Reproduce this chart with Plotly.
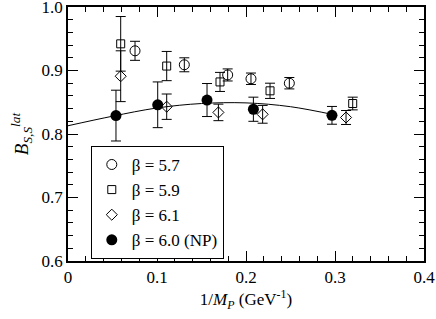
import plotly.graph_objects as go

# beta = 5.7 (open circles)
x57 = [0.0753, 0.1307, 0.1794, 0.2056, 0.2487]
y57 = [0.931, 0.909, 0.893, 0.887, 0.880]
e57 = [0.015, 0.011, 0.0095, 0.009, 0.009]

# beta = 5.9 (open squares)
x59 = [0.0592, 0.1109, 0.1708, 0.2270, 0.3199]
y59 = [0.942, 0.907, 0.882, 0.868, 0.848]
e59 = [0.043, 0.023, 0.015, 0.012, 0.010]

# beta = 6.1 (open diamonds)
x61 = [0.0592, 0.1109, 0.1690, 0.2187, 0.3124]
y61 = [0.891, 0.843, 0.834, 0.831, 0.826]
e61 = [0.040, 0.020, 0.013, 0.014, 0.011]

# beta = 6.0 (NP) (filled circles)
x60 = [0.0539, 0.1008, 0.1562, 0.2083, 0.2966]
y60 = [0.829, 0.846, 0.8535, 0.839, 0.8294]
e60 = [0.040, 0.036, 0.026, 0.019, 0.014]

# fit curve
xfit = [0.0, 0.05, 0.10, 0.15, 0.20, 0.25, 0.30]
yfit = [0.813, 0.828, 0.841, 0.848, 0.849, 0.843, 0.830]

# tick labels
xticks = [0, 0.1, 0.2, 0.3, 0.4]
xticklabels = ["0", "0.1", "0.2", "0.3", "0.4"]
yticks = [0.6, 0.7, 0.8, 0.9, 1.0]
yticklabels = ["0.6", "0.7", "0.8", "0.9", "1.0"]

FONT = "Liberation Serif, Times New Roman, serif"

fig = go.Figure()
fig.add_trace(go.Scatter(x=xfit, y=yfit, mode="lines", line=dict(color="black", width=1, shape="spline"),
                         showlegend=False, hoverinfo="skip"))

def err(arr):
    return dict(type="data", array=arr, visible=True, color="black", thickness=1, width=5)

fig.add_trace(go.Scatter(x=x57, y=y57, mode="markers", name="β = 5.7", error_y=err(e57),
                         marker=dict(symbol="circle-open", size=10, color="black", line=dict(width=1, color="black"))))
fig.add_trace(go.Scatter(x=x59, y=y59, mode="markers", name="β = 5.9", error_y=err(e59),
                         marker=dict(symbol="square-open", size=8, color="black", line=dict(width=1, color="black"))))
fig.add_trace(go.Scatter(x=x61, y=y61, mode="markers", name="β = 6.1", error_y=err(e61),
                         marker=dict(symbol="diamond-open", size=8.5, color="black", line=dict(width=1, color="black"))))
fig.add_trace(go.Scatter(x=x60, y=y60, mode="markers", name="β = 6.0 (NP)", error_y=err(e60),
                         marker=dict(symbol="circle", size=11, color="black", line=dict(width=0, color="black"))))

axis_common = dict(showline=True, linecolor="black", linewidth=1.5, mirror="allticks",
                   ticks="inside", ticklen=10, tickwidth=1, tickcolor="black",
                   showgrid=False, zeroline=False, automargin=False,
                   ticklabeloverflow="allow",
                   tickfont=dict(family=FONT, size=17, color="black"))

fig.update_xaxes(range=[0, 0.4], tickmode="array", tickvals=xticks, ticktext=xticklabels,
                 minor=dict(dtick=0.02, ticks="inside", ticklen=5, tickcolor="black", tickwidth=1),
                 title=dict(text="1/<i>M</i><sub><i>P</i></sub> (GeV<sup>-1</sup>)",
                            font=dict(family=FONT, size=17, color="black"), standoff=6),
                 **axis_common)
fig.update_yaxes(range=[0.6, 1.0], tickmode="array", tickvals=yticks, ticktext=yticklabels,
                 minor=dict(dtick=0.02, ticks="inside", ticklen=5, tickcolor="black", tickwidth=1),
                 title=dict(text="<i>B</i><sub><i>S,S</i></sub><sup><i>lat</i></sup>",
                            font=dict(family=FONT, size=19, color="black"), standoff=8),
                 **axis_common)

fig.update_layout(
    width=436, height=319,
    margin=dict(l=68, r=12, t=7, b=58, pad=0),
    paper_bgcolor="white", plot_bgcolor="white",
    font=dict(family=FONT, size=17, color="black"),
    hovermode=False,
    legend=dict(x=0.064, y=0.453, xanchor="left", yanchor="top",
                bordercolor="black", borderwidth=1, bgcolor="white",
                font=dict(family=FONT, size=17, color="black"),
                itemwidth=30, tracegroupgap=0),
)

# remove the page's default body margin so the figure sits at the window's top-left corner
fig.write_html("out.html", config={"displayModeBar": False},
               post_script="document.body.style.margin='0';document.body.style.overflow='hidden';")
